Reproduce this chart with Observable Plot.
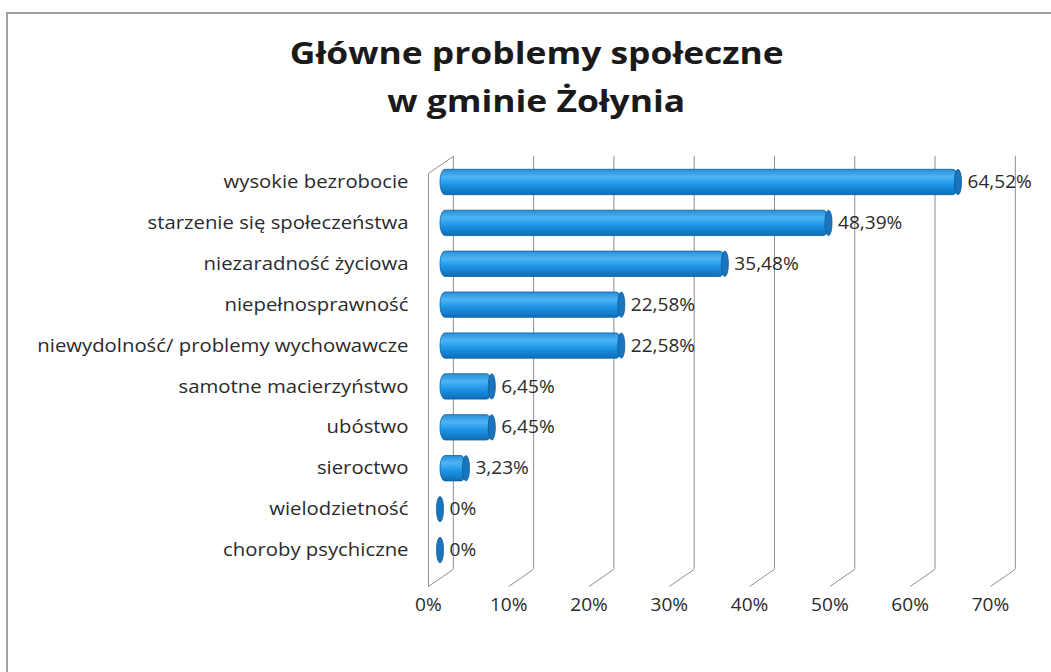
<!DOCTYPE html>
<html>
<head>
<meta charset="utf-8">
<script src="https://cdn.jsdelivr.net/npm/d3@7"></script>
<script src="https://cdn.jsdelivr.net/npm/@observablehq/plot@0.6"></script>
<style>
  html, body { margin: 0; padding: 0; background: #fff; }
  #wrap { position: relative; width: 1051px; height: 672px; overflow: hidden; font-family: "Open Sans", sans-serif; }
  #frame { position: absolute; left: 6px; top: 12px; width: 1100px; height: 700px; border-left: 2px solid #a0a0a0; border-top: 2px solid #a0a0a0; }
  #title { position: relative; height: 140px; box-sizing: border-box; padding-top: 29px; padding-left: 22px; text-align: center; font-weight: 700; font-size: 29.5px; line-height: 48px; color: #1a1a1a; }
  #title span { display: inline-block; transform: scaleX(1.2); transform-origin: 50% 50%; }
  #chart svg { display: block; }
</style>
</head>
<body>
<div id="wrap">
  <div id="frame"></div>
  <div id="title"><span>Główne problemy społeczne</span><br><span>w gminie Żołynia</span></div>
  <div id="chart"></div>
</div>
<script>
const categories = [
  "wysokie bezrobocie",
  "starzenie się społeczeństwa",
  "niezaradność życiowa",
  "niepełnosprawność",
  "niewydolność/ problemy wychowawcze",
  "samotne macierzyństwo",
  "ubóstwo",
  "sieroctwo",
  "wielodzietność",
  "choroby psychiczne"
];
const values = [64.52, 48.39, 35.48, 22.58, 22.58, 6.45, 6.45, 3.23, 0, 0];
const ticks = [0, 10, 20, 30, 40, 50, 60, 70];
const tickLabels = ["0%", "10%", "20%", "30%", "40%", "50%", "60%", "70%"];

const data = categories.map((c, i) => ({i, c, v: values[i]}));
const fmt = v => (v === 0 ? "0" : v.toFixed(2).replace(".", ",")) + "%";

// 3D depth offsets (in x units) for back wall and front floor edge
const back = 1.6, front = -1.5;
const gridTop = -0.64, gridBottom = 9.46, floorFront = 9.88, wallTop = -0.22;
const half = 0.31;

const grid = "#8f8f8f";
const textColor = "#2b2b2b";
const plot = Plot.plot({
  width: 1051,
  height: 532,
  marginLeft: 440,
  marginRight: 49,
  x: {domain: [0, 70], axis: null},
  y: {domain: [0, 9], range: [42, 410], axis: null},
  style: {fontFamily: "'Open Sans', sans-serif", color: textColor},
  marks: [
    Plot.ruleX(ticks, {x: d => d + back, y1: gridTop, y2: gridBottom, stroke: grid, strokeWidth: 1}),
    Plot.link(ticks, {x1: d => d + back, y1: gridBottom, x2: d => d + front, y2: floorFront, stroke: grid, strokeWidth: 1}),
    Plot.link([0], {x1: front, y1: wallTop, x2: front, y2: floorFront, stroke: grid, strokeWidth: 1}),
    Plot.link([0], {x1: front, y1: wallTop, x2: back, y2: gridTop, stroke: grid, strokeWidth: 1}),
    Plot.rect(data.filter(d => d.v > 0), {x1: 0, x2: "v", y1: d => d.i - half, y2: d => d.i + half,
      fill: "url(#cyl)", stroke: "#0f5f9e", strokeWidth: 0.8, rx: 5, ry: 12}),
    Plot.rect(data, {x1: "v", x2: "v", y1: d => d.i - half, y2: d => d.i + half,
      insetLeft: -3.5, insetRight: -3.5, rx: 3.5, ry: 12,
      fill: "#1b74be", stroke: "#0d5a96", strokeWidth: 0.8}),
    Plot.text(data, {x: "v", y: "i", text: d => fmt(d.v), dx: 9, textAnchor: "start",
      fontSize: 17.5, fill: textColor}),
    Plot.text(ticks, {x: d => d + front, y: 10.34, text: (d, k) => tickLabels[k],
      fontSize: 17.5, fill: textColor}),
    Plot.axisY(d3.range(categories.length), {anchor: "left", tickSize: 0, tickPadding: 32, label: null,
      tickFormat: i => categories[i], fontSize: 17.5, fill: textColor})
  ]
});

const defs = d3.select(plot).insert("defs", ":first-child");
const g = defs.append("linearGradient").attr("id", "cyl").attr("x1", 0).attr("y1", 0).attr("x2", 0).attr("y2", 1);
g.append("stop").attr("offset", "0%").attr("stop-color", "#2a8fd8");
g.append("stop").attr("offset", "30%").attr("stop-color", "#4cb4f4");
g.append("stop").attr("offset", "60%").attr("stop-color", "#1d95e6");
g.append("stop").attr("offset", "100%").attr("stop-color", "#0e6db6");

document.getElementById("chart").appendChild(plot);

// widen glyphs slightly to match the horizontally stretched look of the original
d3.select(plot).selectAll("text").each(function () {
  const s = this.textContent;
  const k = categories.includes(s) ? 1.16 : 1.09;
  const len = this.getComputedTextLength();
  if (len > 0) {
    this.setAttribute("textLength", (len * k).toFixed(1));
    this.setAttribute("lengthAdjust", "spacingAndGlyphs");
  }
});
</script>
</body>
</html>
